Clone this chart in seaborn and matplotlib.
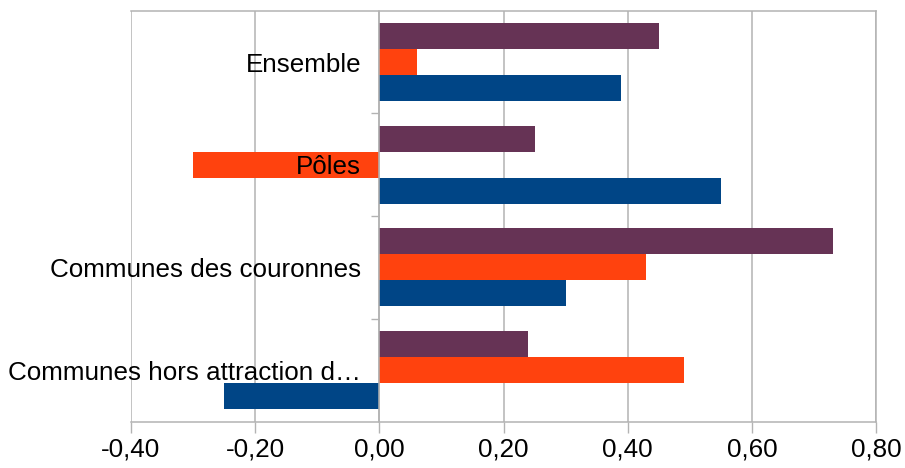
import matplotlib
matplotlib.use("Agg")
import matplotlib.pyplot as plt
import seaborn as sns
import pandas as pd

categories = ["Ensemble", "Pôles", "Communes des couronnes", "Communes hors attraction d…"]
series_names = ["Série A", "Série B", "Série C"]
serie_a = [0.45, 0.25, 0.73, 0.24]
serie_b = [0.06, -0.30, 0.43, 0.49]
serie_c = [0.39, 0.55, 0.30, -0.25]
xticks = [-0.40, -0.20, 0.00, 0.20, 0.40, 0.60, 0.80]
xtick_labels = ["-0,40", "-0,20", "0,00", "0,20", "0,40", "0,60", "0,80"]
colors = ["#663355", "#ff420e", "#004586"]

rows = []
for name, vals in zip(series_names, [serie_a, serie_b, serie_c]):
    for cat, v in zip(categories, vals):
        rows.append({"cat": cat, "serie": name, "val": v})
df = pd.DataFrame(rows)

sns.set_style("white")
plt.rcParams["font.family"] = ["Liberation Sans", "DejaVu Sans"]
plt.rcParams["text.color"] = "black"
plt.rcParams["xtick.color"] = "black"
plt.rcParams["ytick.color"] = "black"

fs = 18.7

fig = plt.figure(figsize=(9.05, 4.68), dpi=100)
ax = fig.add_axes([131 / 905, 1 - 421.5 / 468, (876 - 131) / 905, (421.5 - 10.7) / 468])

sns.barplot(data=df, x="val", y="cat", hue="serie", order=categories,
            hue_order=series_names, palette=colors, orient="h",
            width=0.76, legend=False, ax=ax, saturation=1, errorbar=None,
            linewidth=0)

grid_c = "#b3b3b3"
ax.set_xlim(-0.40, 0.80)
ax.set_ylim(3.5, -0.5)
for t in xticks:
    ax.axvline(t, color=grid_c, lw=1.1, zorder=0.5)

ax.set_xticks(xticks)
ax.set_xticklabels(xtick_labels, fontsize=fs, color="black")
ax.tick_params(axis="x", length=7.9, width=1, color=grid_c, pad=3.8, direction="out",
               bottom=True, labelcolor="black")

ax.spines["left"].set_position(("data", 0))
for s in ax.spines.values():
    s.set_color(grid_c)
    s.set_linewidth(1.1)

ax.set_yticks(range(len(categories)))
ax.set_yticklabels(categories, fontsize=fs, color="black")
ax.set_yticks([0.5, 1.5, 2.5], minor=True)
ax.tick_params(axis="y", which="major", length=0, pad=13, left=True, labelcolor="black")
ax.tick_params(axis="y", which="minor", length=6, width=1, color=grid_c, direction="out", left=True)
ax.yaxis.set_zorder(5)

ax.set_xlabel("")
ax.set_ylabel("")

fig.savefig("out.png", dpi=100)
